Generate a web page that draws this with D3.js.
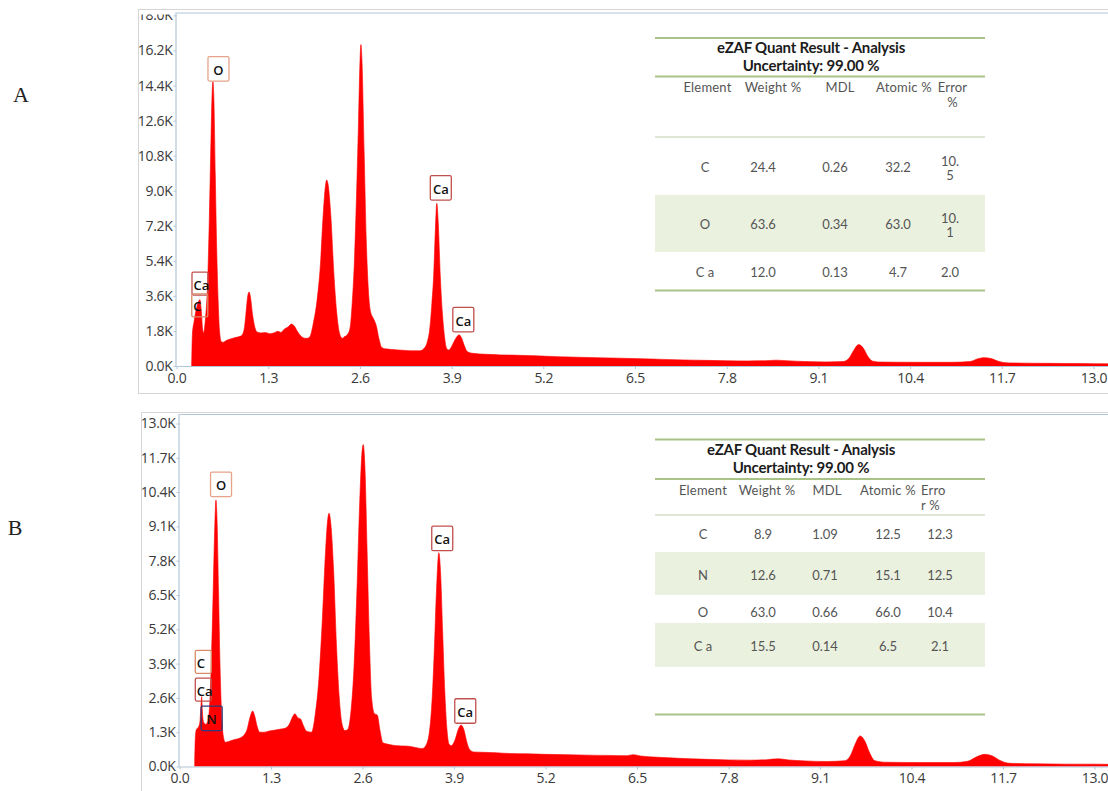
<!DOCTYPE html>
<html>
<head>
<meta charset="utf-8">
<script src="https://cdn.jsdelivr.net/npm/d3@7"></script>
<style>
  html, body { margin: 0; padding: 0; background: #ffffff; }
  svg { display: block; }
</style>
</head>
<body>
<svg id="chart" width="1108" height="791"></svg>
<script>
// ---------- data ----------
const energyTicks = [0.0, 1.3, 2.6, 3.9, 5.2, 6.5, 7.8, 9.1, 10.4, 11.7, 13.0];
const countTicksA = [0, 1.8, 3.6, 5.4, 7.2, 9.0, 10.8, 12.6, 14.4, 16.2, 18.0];
const countTicksB = [0, 1.3, 2.6, 3.9, 5.2, 6.5, 7.8, 9.1, 10.4, 11.7, 13.0];

// EDS spectrum A: [energy keV, counts (K)]
const spectrumA = [
  [0.215, 0], [0.225, 1.6], [0.25, 2.3], [0.28, 2.9], [0.31, 3.3], [0.333, 3.4], [0.35, 2.9], [0.37, 1.9],
  [0.385, 1.7], [0.41, 2.4], [0.44, 4.2], [0.465, 7.5], [0.49, 11.8], [0.505, 14.0], [0.517, 14.6],
  [0.53, 13.7], [0.55, 9.8], [0.57, 6.0], [0.59, 3.4], [0.61, 1.8], [0.635, 1.25], [0.66, 1.22],
  [0.70, 1.3], [0.76, 1.38], [0.82, 1.45], [0.88, 1.5], [0.92, 1.55], [0.96, 1.9], [0.99, 2.9],
  [1.01, 3.6], [1.03, 3.8], [1.05, 3.5], [1.08, 2.6], [1.11, 2.0], [1.14, 1.75], [1.2, 1.7],
  [1.26, 1.72], [1.32, 1.66], [1.38, 1.7], [1.44, 1.78], [1.48, 1.72], [1.53, 1.9], [1.58, 2.0],
  [1.63, 2.15], [1.67, 2.05], [1.71, 1.8], [1.76, 1.55], [1.81, 1.43], [1.85, 1.42], [1.89, 1.5],
  [1.94, 2.2], [1.99, 3.3], [2.04, 5.2], [2.08, 7.8], [2.11, 9.2], [2.13, 9.55], [2.15, 9.3],
  [2.19, 7.6], [2.23, 4.8], [2.27, 2.8], [2.31, 1.7], [2.35, 1.42], [2.38, 1.5], [2.42, 1.6],
  [2.46, 1.95], [2.49, 3.2], [2.52, 5.2], [2.55, 8.5], [2.58, 12.5], [2.60, 15.5], [2.615, 16.5],
  [2.63, 15.6], [2.66, 11.0], [2.69, 6.5], [2.72, 3.9], [2.75, 2.8], [2.79, 2.45], [2.83, 2.1],
  [2.87, 1.4], [2.91, 0.95], [2.96, 0.88], [3.05, 0.85], [3.15, 0.82], [3.25, 0.8], [3.35, 0.78],
  [3.45, 0.78], [3.52, 0.95], [3.56, 1.3], [3.59, 1.9], [3.62, 3.2], [3.645, 4.6], [3.67, 7.0],
  [3.69, 8.35], [3.71, 7.4], [3.74, 4.6], [3.77, 2.7], [3.80, 1.5], [3.83, 0.9], [3.86, 0.82],
  [3.9, 1.0], [3.94, 1.3], [3.975, 1.5], [4.005, 1.6], [4.04, 1.45], [4.08, 1.05], [4.12, 0.75],
  [4.2, 0.65], [4.4, 0.6], [4.6, 0.57], [4.85, 0.55], [5.1, 0.52], [5.4, 0.48], [5.7, 0.45],
  [6.0, 0.42], [6.3, 0.4], [6.6, 0.37], [6.9, 0.34], [7.2, 0.31], [7.5, 0.29], [7.8, 0.27],
  [8.1, 0.26], [8.35, 0.27], [8.5, 0.3], [8.65, 0.27], [8.9, 0.23], [9.2, 0.21], [9.45, 0.23],
  [9.53, 0.38], [9.6, 0.8], [9.67, 1.1], [9.74, 0.9], [9.8, 0.5], [9.87, 0.25], [10.0, 0.2],
  [10.5, 0.19], [11.0, 0.19], [11.25, 0.23], [11.35, 0.36], [11.45, 0.43], [11.55, 0.38],
  [11.65, 0.24], [11.8, 0.16], [12.2, 0.14], [12.6, 0.13], [13.0, 0.12], [13.3, 0.11]
];

// EDS spectrum B: [energy keV, counts (K)]
const spectrumB = [
  [0.215, 0], [0.225, 1.1], [0.24, 1.4], [0.27, 1.5], [0.29, 1.7], [0.305, 2.3], [0.315, 2.65],
  [0.325, 2.1], [0.34, 1.7], [0.37, 1.6], [0.40, 1.7], [0.43, 2.4], [0.455, 4.2], [0.48, 6.8],
  [0.50, 9.0], [0.518, 10.1], [0.535, 9.2], [0.555, 6.6], [0.575, 3.9], [0.60, 1.9], [0.625, 1.1],
  [0.65, 0.92], [0.70, 0.95], [0.78, 1.02], [0.86, 1.08], [0.92, 1.2], [0.96, 1.4], [1.0, 1.85],
  [1.04, 2.1], [1.07, 1.9], [1.1, 1.55], [1.14, 1.3], [1.2, 1.3], [1.28, 1.35], [1.36, 1.38],
  [1.44, 1.42], [1.5, 1.45], [1.56, 1.6], [1.61, 1.9], [1.64, 2.0], [1.68, 1.85], [1.72, 1.8],
  [1.76, 1.55], [1.8, 1.35], [1.875, 1.3], [1.93, 2.0], [1.98, 3.3], [2.03, 5.6], [2.07, 7.9],
  [2.10, 9.2], [2.125, 9.6], [2.15, 9.2], [2.19, 7.4], [2.23, 4.6], [2.27, 2.6], [2.31, 1.6],
  [2.35, 1.36], [2.39, 1.4], [2.44, 2.2], [2.48, 3.8], [2.52, 6.6], [2.56, 10.0], [2.59, 11.8],
  [2.61, 12.2], [2.635, 11.3], [2.665, 8.2], [2.70, 4.6], [2.73, 2.6], [2.77, 2.0], [2.81, 1.95],
  [2.85, 1.35], [2.89, 0.9], [2.95, 0.85], [3.05, 0.8], [3.15, 0.78], [3.25, 0.77], [3.35, 0.72],
  [3.45, 0.68], [3.5, 0.8], [3.55, 1.3], [3.59, 2.6], [3.62, 4.4], [3.65, 6.6], [3.685, 8.1],
  [3.71, 7.3], [3.74, 5.0], [3.77, 2.8], [3.80, 1.4], [3.83, 0.85], [3.86, 0.79], [3.92, 1.05],
  [3.96, 1.4], [4.0, 1.57], [4.04, 1.4], [4.08, 0.95], [4.12, 0.65], [4.18, 0.55], [4.3, 0.54],
  [4.5, 0.52], [4.7, 0.49], [4.95, 0.48], [5.2, 0.46], [5.5, 0.45], [5.8, 0.43], [6.1, 0.42],
  [6.35, 0.41], [6.45, 0.45], [6.55, 0.4], [6.8, 0.35], [7.1, 0.31], [7.4, 0.28], [7.8, 0.25],
  [8.1, 0.24], [8.35, 0.26], [8.5, 0.29], [8.65, 0.25], [8.9, 0.21], [9.2, 0.19], [9.45, 0.22],
  [9.53, 0.4], [9.6, 0.85], [9.67, 1.16], [9.74, 0.95], [9.8, 0.55], [9.88, 0.22], [10.05, 0.16],
  [10.5, 0.15], [11.0, 0.15], [11.2, 0.2], [11.32, 0.36], [11.44, 0.46], [11.55, 0.4],
  [11.65, 0.24], [11.8, 0.12], [12.2, 0.1], [12.6, 0.09], [13.0, 0.09], [13.3, 0.08]
];

// peak markers: element, energy of the tag (keV), count level of the tag's lower edge (K)
const markersA = [
  { el: "O",  energy: 0.595, level: 14.63 },
  { el: "Ca", energy: 0.333, level: 3.64 },
  { el: "C",  energy: 0.330, level: 2.52 },
  { el: "Ca", energy: 3.747, level: 8.52 },
  { el: "Ca", energy: 4.066, level: 1.75 }
];
const markersB = [
  { el: "O",  energy: 0.590, level: 10.23 },
  { el: "Ca", energy: 3.733, level: 8.18 },
  { el: "C",  energy: 0.338, level: 3.53 },
  { el: "Ca", energy: 0.338, level: 2.48 },
  { el: "N",  energy: 0.457, level: 1.36 },
  { el: "Ca", energy: 4.060, level: 1.64 }
];

// quantification tables
const quantTitle = "eZAF Quant Result - Analysis";
const quantSubtitle = "Uncertainty: 99.00 %";
const quantColumns = ["Element", "Weight %", "MDL", "Atomic %", "Error %"];
const elementsA = ["C", "O", "C a"];
const weightA = [24.4, 63.6, 12.0];
const mdlA = [0.26, 0.34, 0.13];
const atomicA = [32.2, 63.0, 4.7];
const errorA = [10.5, 10.1, 2.0];
const elementsB = ["C", "N", "O", "C a"];
const weightB = [8.9, 12.6, 63.0, 15.5];
const mdlB = [1.09, 0.71, 0.66, 0.14];
const atomicB = [12.5, 15.1, 66.0, 6.5];
const errorB = [12.3, 12.5, 10.4, 2.1];

// ---------- drawing ----------
const svg = d3.select("#chart");
const RED = "#ff0000";
const AXIS_COL = "#b3c6d8";
const FRAME_COL = "#d6d6d6";
const LABEL_FONT = "'Open Sans', 'Noto Sans', sans-serif";
const TABLE_FONT = "Lato, 'Noto Sans', sans-serif";

const tagStroke = { O: "#e6a38a", C: "#d98a66", Ca: "#c0504d", N: "#303a7c" };

function drawPanel(cfg) {
  const g = svg.append("g");
  const x = d3.scaleLinear().domain([0, 13]).range([cfg.left, cfg.right13]);
  const y = d3.scaleLinear().domain([0, cfg.yMax]).range([cfg.bottom, cfg.yTopAtMax]);

  // outer frame
  g.append("rect")
    .attr("x", cfg.frameX + 0.5).attr("y", cfg.frameY + 0.5)
    .attr("width", 1200).attr("height", cfg.frameH)
    .attr("fill", "#fff").attr("stroke", FRAME_COL).attr("stroke-width", 1);

  const clipId = "clip" + cfg.id;
  svg.append("clipPath").attr("id", clipId)
    .append("rect").attr("x", cfg.left).attr("y", cfg.top)
    .attr("width", 1108 - cfg.left).attr("height", cfg.bottom - cfg.top);

  // the tick-label clip lives in the axis group's own (translated) space
  const labelClip = "lclip" + cfg.id;
  svg.append("clipPath").attr("id", labelClip)
    .append("rect").attr("x", -200).attr("y", cfg.labelTop)
    .attr("width", 400).attr("height", 900);

  // spectrum fill
  const area = d3.area()
    .x(d => x(d[0]))
    .y0(y(0))
    .y1(d => y(d[1]))
    .curve(d3.curveMonotoneX);
  g.append("path")
    .datum(cfg.data)
    .attr("clip-path", `url(#${clipId})`)
    .attr("d", area)
    .attr("fill", RED)
    .attr("stroke", RED)
    .attr("stroke-width", 0.6);

  // plot border (top + left) and axes
  g.append("line").attr("x1", cfg.left).attr("x2", 1108)
    .attr("y1", cfg.top + 0.5).attr("y2", cfg.top + 0.5)
    .attr("stroke", AXIS_COL).attr("stroke-width", 1.2);

  const yAxis = d3.axisLeft(y).tickValues(cfg.yTicks)
    .tickFormat(d => d.toFixed(1) + "K").tickSize(3).tickPadding(1);
  const ya = g.append("g")
    .attr("transform", `translate(${cfg.left},0)`)
    .attr("clip-path", `url(#${labelClip})`)
    .call(yAxis);
  ya.select(".domain").remove();
  ya.selectAll("line").attr("stroke", AXIS_COL);
  ya.selectAll("text").attr("fill", "#3a3a3a")
    .style("font-family", LABEL_FONT).style("font-size", "14px")
    .style("letter-spacing", "-0.3px");
  g.append("line").attr("x1", cfg.left - 0.5).attr("x2", cfg.left - 0.5)
    .attr("y1", cfg.top).attr("y2", cfg.bottom)
    .attr("stroke", AXIS_COL).attr("stroke-width", 1.2);

  const xAxis = d3.axisBottom(x).tickValues(energyTicks)
    .tickFormat(d => d.toFixed(1)).tickSize(3).tickPadding(4);
  const xa = g.append("g")
    .attr("transform", `translate(0,${cfg.bottom})`)
    .call(xAxis);
  xa.select(".domain").attr("stroke", AXIS_COL).attr("stroke-width", 1.2)
    .attr("d", `M${cfg.left},0.5H1108`);
  xa.selectAll("line").attr("stroke", AXIS_COL);
  xa.selectAll("text").attr("fill", "#3a3a3a")
    .style("font-family", LABEL_FONT).style("font-size", "14px")
    .style("letter-spacing", "-0.3px");

  // element tags
  const tags = g.append("g");
  cfg.markers.forEach(m => {
    const narrow = m.energy < 0.4;
    const w = narrow ? 16 : 21;
    const h = narrow ? 23 : 24.5;
    const cx = x(m.energy);
    const yb = y(m.level);
    tags.append("rect")
      .attr("x", cx - w / 2).attr("y", yb - h)
      .attr("width", w).attr("height", h)
      .attr("rx", 1.5)
      .attr("fill", "none")
      .attr("stroke", tagStroke[m.el])
      .attr("stroke-width", 1.3);
    tags.append("text")
      .attr("x", narrow ? cx - w / 2 + 1.5 : cx)
      .attr("y", yb - h / 2 + 1)
      .attr("text-anchor", narrow ? "start" : "middle")
      .attr("dominant-baseline", "central")
      .style("font-family", LABEL_FONT)
      .style("font-weight", 600)
      .style("font-size", "13px")
      .attr("fill", "#111")
      .text(m.el);
  });
}

function drawTable(cfg) {
  const g = svg.append("g").style("font-family", TABLE_FONT);
  const n = cfg.elements.length;
  // shaded rows
  cfg.bands.forEach(b => {
    g.append("rect").attr("x", cfg.x0).attr("y", b[0])
      .attr("width", cfg.x1 - cfg.x0).attr("height", b[1] - b[0])
      .attr("fill", "#ebf1df");
  });
  // rules
  cfg.rules.forEach(r => {
    g.append("line").attr("x1", cfg.x0).attr("x2", cfg.x1)
      .attr("y1", r.y).attr("y2", r.y)
      .attr("stroke", r.light ? "#dfe6d3" : "#a9c285")
      .attr("stroke-width", 2);
  });
  // title
  [[quantTitle, cfg.titleY], [quantSubtitle, cfg.subY]].forEach(([t, yy]) => {
    g.append("text").attr("x", cfg.titleX).attr("y", yy)
      .attr("text-anchor", "middle").attr("dominant-baseline", "central")
      .style("font-weight", 700).style("font-size", "15px")
      .style("letter-spacing", "-0.2px")
      .attr("fill", "#1c1c1c").text(t);
  });
  // header
  cfg.headerX.forEach((hx, i) => {
    const label = quantColumns[i];
    const lines = i === 4 ? cfg.errorHeader : [label];
    lines.forEach((ln, k) => {
      g.append("text").attr("x", hx).attr("y", cfg.headerY + k * 14.5)
        .attr("text-anchor", i === 4 && cfg.errorHeaderAnchor ? cfg.errorHeaderAnchor[k] : "middle")
        .attr("dominant-baseline", "central")
        .style("font-size", "13px").style("letter-spacing", "0.2px")
        .attr("fill", "#555").text(ln);
    });
  });
  // body
  for (let r = 0; r < n; r++) {
    const vals = [
      cfg.elements[r],
      cfg.weight[r].toFixed(1),
      cfg.mdl[r].toFixed(2),
      cfg.atomic[r].toFixed(1),
      cfg.error[r].toFixed(1)
    ];
    vals.forEach((v, c) => {
      let lines = [v];
      if (c === 4 && cfg.wrapError && v.length > 3) lines = [v.slice(0, 3), v.slice(3)];
      lines.forEach((ln, k) => {
        const dy = lines.length > 1 ? (k === 0 ? -6 : 8) : 0;
        g.append("text").attr("x", cfg.colX[c]).attr("y", cfg.rowY[r] + dy)
          .attr("text-anchor", "middle").attr("dominant-baseline", "central")
          .style("font-size", "13px")
          .attr("fill", "#555").text(ln);
      });
    });
  }
}

drawPanel({
  id: "A", data: spectrumA, markers: markersA, yTicks: countTicksA, yMax: 18,
  frameX: 138, frameY: 9, frameH: 384,
  left: 176.5, right13: 1093.5, top: 12.5, bottom: 366, yTopAtMax: 15.4, labelTop: 14.5
});
drawPanel({
  id: "B", data: spectrumB, markers: markersB, yTicks: countTicksB, yMax: 13,
  frameX: 141, frameY: 412, frameH: 400,
  left: 179.5, right13: 1094.5, top: 414, bottom: 766.5, yTopAtMax: 423.5, labelTop: 413
});

drawTable({
  elements: elementsA, weight: weightA, mdl: mdlA, atomic: atomicA, error: errorA,
  x0: 655, x1: 985, titleX: 811, titleY: 46.5, subY: 65,
  rules: [{ y: 38 }, { y: 76.5 }, { y: 137, light: true }, { y: 290.5 }],
  bands: [[195, 252]],
  headerY: 87, headerX: [707.5, 773, 840, 904, 952.5],
  errorHeader: ["Error", "%"],
  colX: [705, 763, 835, 898, 950], rowY: [167, 223.5, 272], wrapError: true
});
drawTable({
  elements: elementsB, weight: weightB, mdl: mdlB, atomic: atomicB, error: errorB,
  x0: 655, x1: 985, titleX: 801, titleY: 449, subY: 467,
  rules: [{ y: 439.5 }, { y: 479 }, { y: 515, light: true }, { y: 714.5 }],
  bands: [[552, 595], [623, 667]],
  headerY: 490, headerX: [703, 767, 827, 888, 921],
  errorHeader: ["Erro", "r %"], errorHeaderAnchor: ["start", "start"],
  colX: [703, 763, 825, 888, 940], rowY: [533.5, 575, 612, 646], wrapError: false
});

// panel letters
svg.append("text").attr("x", 21).attr("y", 94)
  .attr("text-anchor", "middle").attr("dominant-baseline", "central")
  .style("font-family", "'Liberation Serif', 'DejaVu Serif', serif")
  .style("font-size", "22px").attr("fill", "#222").text("A");
svg.append("text").attr("x", 15).attr("y", 527)
  .attr("text-anchor", "middle").attr("dominant-baseline", "central")
  .style("font-family", "'Liberation Serif', 'DejaVu Serif', serif")
  .style("font-size", "22px").attr("fill", "#222").text("B");
</script>
</body>
</html>
